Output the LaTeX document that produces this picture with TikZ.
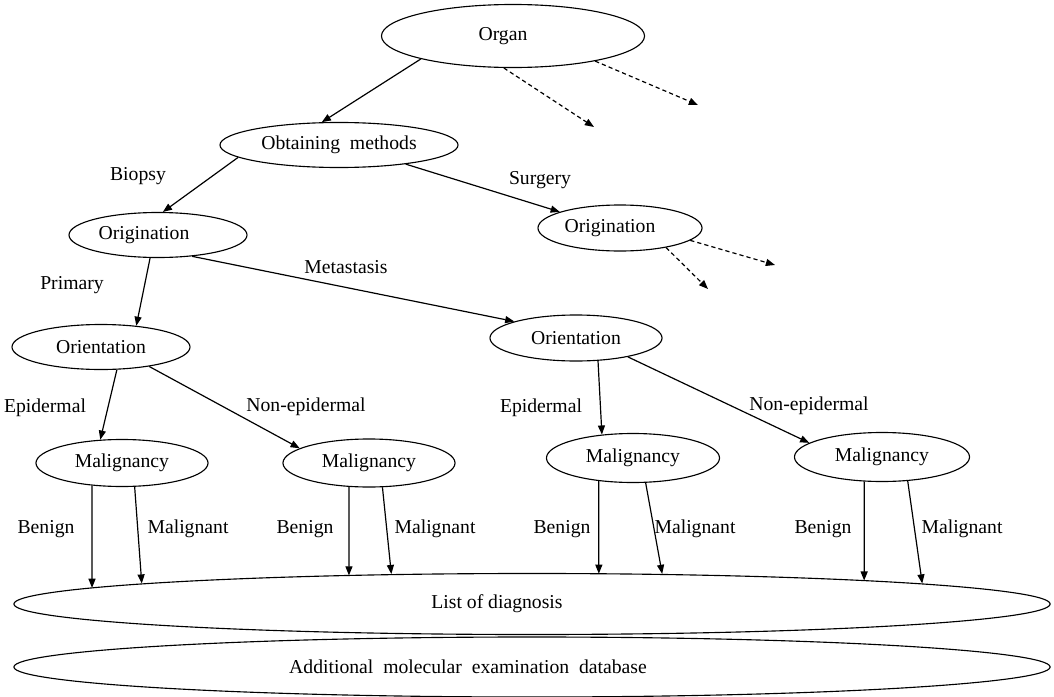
\documentclass[tikz,border=0pt]{standalone}
\usepackage{fontspec}
\setmainfont{LiberationSerif}[Extension=.ttf,UprightFont=*-Regular,BoldFont=*-Bold,ItalicFont=*-Italic]
\usetikzlibrary{shapes.geometric,arrows.meta,intersections}
\begin{document}
\begin{tikzpicture}[x=0.025cm,y=-0.025cm,
    font=\fontsize{14}{17}\selectfont,
    every node/.style={inner sep=0pt},
    oval/.style 2 args={draw,ellipse,line width=0.8pt,minimum width=#1,minimum height=#2},
    link/.style={line width=0.85pt,-{Triangle[length=6.5pt,width=5pt]}},
    more/.style={link,dash pattern=on 3pt off 2.2pt}]
  \useasboundingbox (0,0) rectangle (1054,697);

  % ellipses
  \node[oval={6.575cm}{1.575cm}] (organ) at (513,36) {Organ\hspace{0.5cm}\mbox{}};
  \node[oval={5.95cm}{1.125cm}] (obtain) at (339,145) {Obtaining\ \ methods};
  \node[oval={4.45cm}{1.125cm}] (origl) at (158,235) {Origination\hspace{0.7cm}\mbox{}};
  \node[oval={4.1cm}{1.15cm}] (origr) at (620,228) {Origination\hspace{0.5cm}\mbox{}};
  \node[oval={4.45cm}{1.125cm}] (orientl) at (101,347) {Orientation};
  \node[oval={4.3cm}{1.15cm}] (orientr) at (576,338) {Orientation};
  \node[oval={4.3cm}{1.175cm}] (m1) at (122,463) {Malignancy};
  \node[oval={4.3cm}{1.2cm}] (m2) at (369,463) {Malignancy};
  \node[oval={4.325cm}{1.225cm}] (m3) at (633,458) {Malignancy};
  \node[oval={4.375cm}{1.225cm}] (m4) at (882,457) {Malignancy};
  \node[oval={25.9cm}{1.525cm},name path=lst] (list) at (532,604) {List of diagnosis\hspace{1.75cm}\mbox{}};
  \node[oval={25.9cm}{1.5cm}] (extra) at (532,667) {Additional\ \ molecular\ \ examination\ \ database\hspace{3.2cm}\mbox{}};

  % free ends of the dashed arrows
  \coordinate (o1) at (594,127);
  \coordinate (o2) at (698,105);
  \coordinate (r1) at (708,289);
  \coordinate (r2) at (775,265);

  % arrows
  \draw[link] (organ.-166.5) -- (obtain.127.7);
  \draw[more] (organ.-106) -- (o1);
  \draw[more] (organ.-17.2) -- (o2);
  \draw[link] (obtain.-173) -- (origl.78.2);
  \draw[link] (obtain.-16.1) -- (origr.165.8);
  \draw[more] (origr.-23.7) -- (r1);
  \draw[more] (origr.-10.6) -- (r2);
  \draw[link] (origl.-109.2) -- (orientl.31.5);
  \draw[link] (origl.-32.2) -- (orientr.165.3);
  \draw[link] (orientl.-55.2) -- (m1.133.7);
  \draw[link] (orientl.-22.4) -- (m2.168.8);
  \draw[link] (orientr.-46.3) -- (m3.143.1);
  \draw[link] (orientr.-20.3) -- (m4.169.4);

  % edge labels
  \node (biopsy) at (138,176) {Biopsy};
  \node (surgery) at (540,180) {Surgery};
  \node (primary) at (72,285) {Primary};
  \node (metastasis) at (346,267) {Metastasis};
  \node (epil) at (45,408) {Epidermal};
  \node (nonepil) at (306,407) {Non-epidermal};
  \node (epir) at (541,408) {Epidermal};
  \node (nonepir) at (809,406) {Non-epidermal};

  % malignancy to list of diagnosis
  \foreach \m/\bs/\ms/\me/\bx/\mx in {m1/-143.7/-62.7/177.1/46/188,
      m2/-130.6/-61.3/168.6/305/435,
      m3/-146.5/-63.7/13.8/562/695,
      m4/-126.9/-43.2/3.11/823/962}
    {\path[name path=drop] (\m.\bs) -- ++(0,150);
     \draw[link,name intersections={of=drop and lst,by=tip}] (\m.\bs) -- (tip);
     \draw[link] (\m.\ms) -- (list.\me);
     \node (ben\m) at (\bx,529) {Benign};
     \node (mal\m) at (\mx,529) {Malignant};}
\end{tikzpicture}
\end{document}
